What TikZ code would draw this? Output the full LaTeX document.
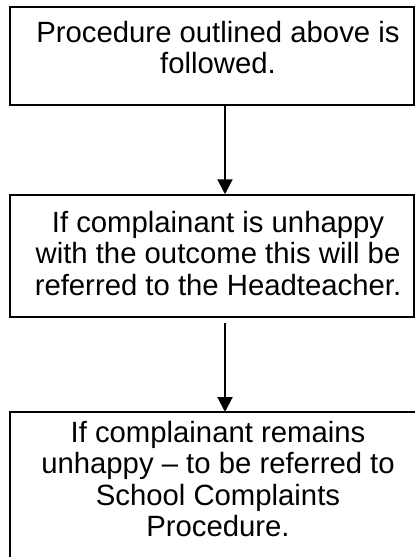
\documentclass[tikz,border=0pt]{standalone}
\usepackage{fontspec}
\setmainfont{Liberation Sans}
\usetikzlibrary{arrows.meta}

\begin{document}
\begin{tikzpicture}[x=1pt, y=-1pt,
	box/.style={draw, line width=1.5pt, minimum width=404pt, inner sep=0pt},
	txt/.style={align=center, anchor=north, inner sep=0pt, font=\fontsize{29.3}{31.5}\selectfont},
	flow/.style={line width=2pt, -{Triangle[width=15pt, length=15pt]}}]
	\useasboundingbox (0,0) rectangle (415,557);
	% boxes (the last one runs off the page)
	\node[box, minimum height=98pt] (proc) at (212,56) {};
	\node[box, minimum height=122pt] (head) at (212,256) {};
	\coordinate (compnw) at (10,412);
	\coordinate (compne) at (425,412);
	\coordinate (compsw) at (10,565);
	\draw[line width=1.5pt] (compsw) -- (compnw) -- (compne);
	% texts
	\node[txt] (proctext) at (218,21) {Procedure outlined above is\\followed.};
	\node[txt] (headtext) at (218,211) {If complainant is unhappy\\with the outcome this will be\\referred to the Headteacher.};
	\node[txt] (comptext) at (218,421) {If complainant remains\\unhappy -- to be referred to\\School Complaints\\Procedure.};
	% arrows
	\draw[flow] ([xshift=13pt]proc.south) -- ([xshift=13pt]head.north);
	\draw[flow] ([xshift=13pt, yshift=-5pt]head.south) -- ([xshift=13pt]proc.south |- compnw);
\end{tikzpicture}
\end{document}
